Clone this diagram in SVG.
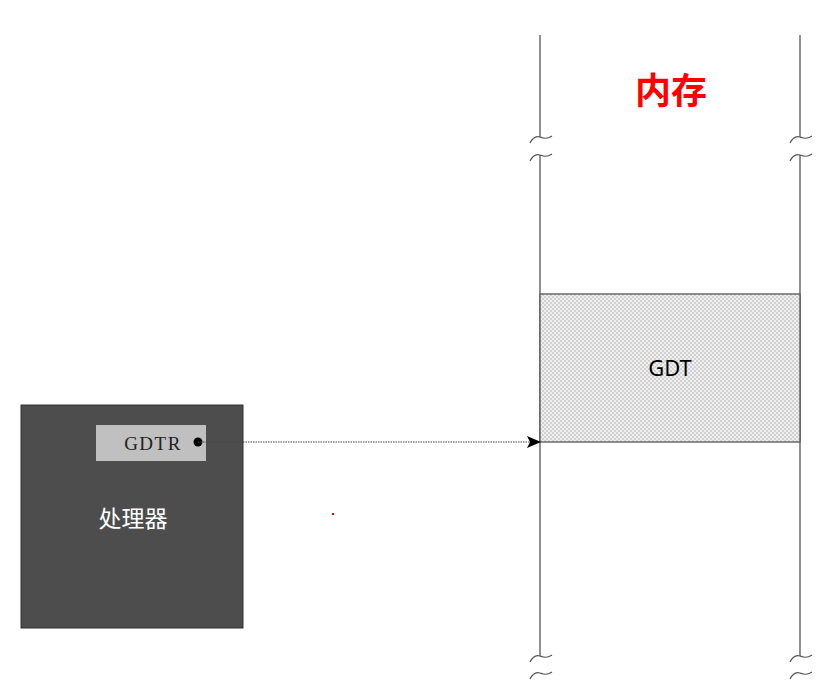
<svg xmlns="http://www.w3.org/2000/svg" width="827" height="690" viewBox="0 0 827 690">
<style>
.mem{stroke:#555;stroke-width:1.3;fill:none}
.tilde{stroke:#555;stroke-width:1.2;fill:none}
</style>
<defs>
<pattern id="chk" width="4" height="4" patternUnits="userSpaceOnUse">
<rect width="4" height="4" fill="#efefef"/>
<rect width="2" height="2" fill="#d2d2d2"/>
<rect x="2" y="2" width="2" height="2" fill="#d2d2d2"/>
</pattern>
<marker id="arr" markerWidth="14" markerHeight="12" refX="13" refY="6" orient="auto" markerUnits="userSpaceOnUse">
<path d="M0,0 L14,6 L0,12 L3,6 Z" fill="#000"/>
</marker>
<path id="tl" d="M-10,6 C-7,0 -3,-1 0,0 C3,1 6,3 12,-1"/>
</defs>
<rect width="827" height="690" fill="#fff"/>
<g id="memory">
<line class="mem" x1="540" y1="35" x2="540" y2="137"/>
<line class="mem" x1="540" y1="155" x2="540" y2="656"/>
<line class="mem" x1="800" y1="35" x2="800" y2="137"/>
<line class="mem" x1="800" y1="155" x2="800" y2="656"/>
<use href="#tl" class="tilde" x="540" y="137"/>
<use href="#tl" class="tilde" x="540" y="155"/>
<use href="#tl" class="tilde" x="540" y="656"/>
<use href="#tl" class="tilde" x="540" y="673"/>
<use href="#tl" class="tilde" x="800" y="137"/>
<use href="#tl" class="tilde" x="800" y="155"/>
<use href="#tl" class="tilde" x="800" y="656"/>
<use href="#tl" class="tilde" x="800" y="673"/>
<text x="671" y="104" text-anchor="middle" font-family="'Noto Sans CJK SC', sans-serif" font-size="36" font-weight="bold" fill="#ff0000">内存</text>
</g>
<g id="gdt">
<rect x="540" y="294" width="260" height="148" fill="url(#chk)" stroke="#555" stroke-width="1.3"/>
<text x="670" y="376" text-anchor="middle" font-family="'Noto Sans', sans-serif" font-size="22" fill="#000">GDT</text>
</g>
<g id="processor">
<rect x="21" y="405" width="222" height="223" fill="#4d4d4d" stroke="#333" stroke-width="1"/>
<text x="133" y="527" text-anchor="middle" font-family="'Noto Sans CJK SC', sans-serif" font-size="23" fill="#fff">处理器</text>
</g>
<g id="gdtr">
<rect x="96" y="425" width="110" height="36" fill="#c0c0c0"/>
<text x="153" y="450" text-anchor="middle" font-family="'Liberation Serif', serif" font-size="19" letter-spacing="1.5" fill="#222">GDTR</text>
</g>
<g id="connectors">
<circle cx="198" cy="442" r="4.5" fill="#000"/>
<line x1="198" y1="442" x2="540" y2="442" stroke="#444" stroke-width="1" stroke-dasharray="1.5,1" marker-end="url(#arr)"/>
</g>
<rect x="332" y="513" width="2" height="2" fill="#e00"/>
</svg>
